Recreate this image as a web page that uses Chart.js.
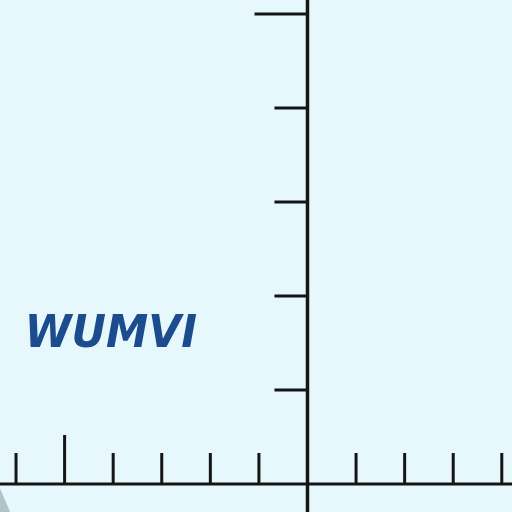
<!DOCTYPE html>
<html>
<head>
<meta charset="utf-8">
<script src="https://cdn.jsdelivr.net/npm/chart.js@4"></script>
<style>
    html, body { margin: 0; padding: 0; background: #e7f8fc; }
    #wrap { width: 512px; height: 512px; }
</style>
</head>
<body>
<div id="wrap"><canvas id="axesChart"></canvas></div>
<script>
// Tick positions along each axis (axis units)
const xTickValues = [-6, -5, -4, -3, -2, -1, 1, 2, 3, 4];
const yTickValues = [1, 2, 3, 4, 5];
const longXTicks = [-5];
const longYTicks = [5];
const labelText = 'WUMVI';

// Visible range of the scanned axes
const xRange = [-6.33, 4.21];
const yRange = [-0.298, 5.15];

// tick lengths, in axis units
const xTickLen = 0.33, xTickLenLong = 0.52;
const yTickLen = 0.68, yTickLenLong = 1.09;

document.addEventListener('DOMContentLoaded', function() {
    initializeChart();
});

function tickSegments(values, longOnes, isX) {
    const pts = [];
    values.forEach(v => {
        if (isX) {
            const len = longOnes.includes(v) ? xTickLenLong : xTickLen;
            pts.push({x: v, y: 0}, {x: v, y: len}, {x: v, y: null});
        } else {
            const len = longOnes.includes(v) ? yTickLenLong : yTickLen;
            pts.push({x: 0, y: v}, {x: -len, y: v}, {x: null, y: null});
        }
    });
    return pts;
}

// draws the italic label near the y axis
const labelPlugin = {
    id: 'axisLabel',
    afterDatasetsDraw(chart) {
        const ctx = chart.ctx;
        const px = chart.scales.x.getPixelForValue(-5.82);
        const py = chart.scales.y.getPixelForValue(1.455);
        ctx.save();
        ctx.translate(px, py);
        ctx.scale(0.965, 1);
        ctx.font = 'italic bold 44px "DejaVu Sans", sans-serif';
        ctx.fillStyle = '#1c4b8e';
        ctx.textBaseline = 'alphabetic';
        ctx.fillText(labelText, 0, 0);
        ctx.restore();
    }
};

function initializeChart() {
    const ctx = document.getElementById('axesChart');
    const lineStyle = {
        showLine: true,
        borderColor: '#151515',
        borderWidth: 3,
        pointRadius: 0,
        spanGaps: false,
        fill: false
    };

    new Chart(ctx, {
        type: 'scatter',
        data: {
            datasets: [
                {
                    // grey scan artefact in the corner
                    data: [{x: xRange[0], y: -0.045}, {x: -6.12, y: yRange[0]}, {x: xRange[0], y: yRange[0]}],
                    showLine: true,
                    borderWidth: 0,
                    borderColor: 'rgba(0,0,0,0)',
                    backgroundColor: '#b3c3ca',
                    pointRadius: 0,
                    fill: 'shape'
                },
                Object.assign({ data: [{x: xRange[0], y: 0}, {x: xRange[1], y: 0}] }, lineStyle),
                Object.assign({ data: [{x: 0, y: yRange[0]}, {x: 0, y: yRange[1]}] }, lineStyle, { borderWidth: 3.5 }),
                Object.assign({ data: tickSegments(xTickValues, longXTicks, true) }, lineStyle),
                Object.assign({ data: tickSegments(yTickValues, longYTicks, false) }, lineStyle)
            ]
        },
        options: {
            responsive: true,
            maintainAspectRatio: false,
            animation: false,
            layout: { padding: 0 },
            plugins: {
                legend: { display: false },
                tooltip: { enabled: false }
            },
            scales: {
                x: { type: 'linear', min: xRange[0], max: xRange[1], display: false },
                y: { type: 'linear', min: yRange[0], max: yRange[1], display: false }
            }
        },
        plugins: [labelPlugin]
    });
}
</script>
</body>
</html>
